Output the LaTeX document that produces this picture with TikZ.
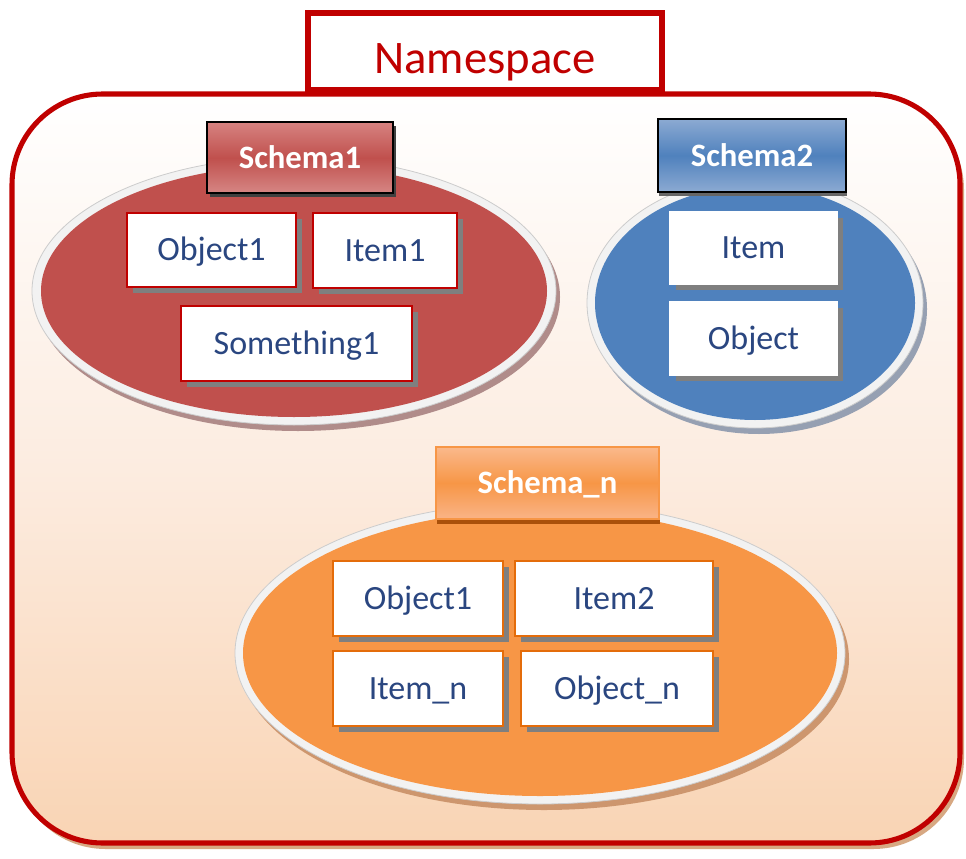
\documentclass[tikz,border=0pt]{standalone}
\usepackage{fontspec}
\setmainfont{Carlito}
\usetikzlibrary{shadows}

\definecolor{nsred}{HTML}{C00000}
\definecolor{redfill}{HTML}{C0504D}
\definecolor{bluefill}{HTML}{4F81BD}
\definecolor{orangefill}{HTML}{F79646}
\definecolor{orangeline}{HTML}{E46C0A}
\definecolor{itemtext}{HTML}{2A4680}
\definecolor{boxshadow}{HTML}{7F7F7F}
\definecolor{peach}{HTML}{F9D4B4}

\tikzset{
  itembox/.style={rectangle, fill=white, text=itemtext, line width=1.4pt,
    font=\fontsize{25.5}{28}\selectfont, inner sep=0pt,
    text height=19pt, text depth=2.6pt,
    drop shadow={shadow xshift=4.5pt, shadow yshift=-4.5pt, fill=boxshadow, opacity=1}},
  redbox/.style={itembox, draw=nsred},
  bluebox/.style={itembox, draw=white},
  orangebox/.style={itembox, draw=orangeline},
  schemalabel/.style={rectangle, text=white, inner sep=0pt,
    text height=17pt, text depth=1.2pt,
    font=\fontsize{24.5}{27}\bfseries\selectfont},
  ring/.style={fill=white!95!black, draw=white!80!black, line width=0.6pt},
}

\begin{document}
\begin{tikzpicture}[x=0.75pt, y=-0.75pt]
  \useasboundingbox (0,0) rectangle (966,859);
  \fill[white] (0,0) rectangle (966,859);

  % namespace frame: shadow, shaded body, red outline
  \fill[color={rgb,255:red,215;green,168;blue,130}, rounded corners=68pt]
    (15,99) rectangle (964,849);
  \shade[rounded corners=68pt, top color=white, bottom color=peach,
    middle color={rgb,255:red,252;green,236;blue,224}]
    (12,94) rectangle (960,843);
  \draw[nsred, line width=3.8pt, rounded corners=68pt]
    (12,94) rectangle (960,843);

  % title tab
  \node[draw=nsred, fill=white, line width=3.8pt, minimum width=265.5pt,
    minimum height=57.75pt, inner sep=0pt, text=nsred,
    text height=33pt, text depth=0pt,
    font=\fontsize{35}{40}\selectfont] (ns) at (485,51.5) {Namespace};

  % ---- Schema1 ----
  \fill[color={rgb,255:red,176;green,140;blue,138}] (298,297) ellipse [x radius=262, y radius=134];
  \path[ring] (294,291) ellipse [x radius=262, y radius=134];
  \fill[redfill] (294,291) ellipse [x radius=253, y radius=126];
  \node[schemalabel, draw=black, line width=1.5pt, minimum width=139.5pt,
    minimum height=53.25pt,
    top color={rgb,255:red,214;green,130;blue,128}, bottom color={rgb,255:red,214;green,135;blue,133},
    middle color=redfill,
    drop shadow={shadow xshift=2pt, shadow yshift=-3pt, fill=black!75, opacity=1}]
    (s1) at (300,158) {Schema1};
  \node[redbox, minimum width=126.75pt, minimum height=55.5pt] (s1a) at (211.5,250) {Object1};
  \node[redbox, minimum width=108pt, minimum height=56.25pt] (s1b) at (385,250.5) {Item1};
  \node[redbox, minimum width=173.25pt, minimum height=56.25pt] (s1c) at (296.5,343.5) {Something1};

  % ---- Schema2 ----
  \fill[color={rgb,255:red,150;green,160;blue,178}] (759,309) ellipse [x radius=168, y radius=125];
  \path[ring] (755,303) ellipse [x radius=168, y radius=125];
  \fill[bluefill] (755,303) ellipse [x radius=160, y radius=117];
  \node[schemalabel, draw=black, line width=1.5pt, minimum width=141pt,
    minimum height=54.75pt,
    top color={rgb,255:red,140;green,170;blue,210}, bottom color={rgb,255:red,140;green,170;blue,210},
    middle color=bluefill,
    drop shadow={shadow xshift=1pt, shadow yshift=-3pt, fill=black!60, opacity=1}]
    (s2) at (752,155.5) {Schema2};
  \node[bluebox, minimum width=125.25pt, minimum height=54pt] (s2a) at (753.5,248) {Item};
  \node[bluebox, minimum width=125.25pt, minimum height=54.75pt] (s2b) at (753.5,338.5) {Object};

  % ---- Schema_n ----
  \fill[color={rgb,255:red,205;green,150;blue,110}] (544,659) ellipse [x radius=305, y radius=151];
  \path[ring] (540,653) ellipse [x radius=305, y radius=151];
  \fill[orangefill] (540,653) ellipse [x radius=297, y radius=143];
  \node[schemalabel, draw=orangefill, line width=0.8pt, minimum width=167.25pt,
    minimum height=54pt,
    top color={rgb,255:red,250;green,185;blue,140}, bottom color={rgb,255:red,250;green,180;blue,135},
    middle color=orangefill,
    drop shadow={shadow xshift=0.5pt, shadow yshift=-3.5pt, fill={rgb,255:red,170;green,80;blue,10}, opacity=1}]
    (sn) at (547.5,483) {Schema\_n};
  \node[orangebox, minimum width=127.5pt, minimum height=56.25pt] (sna) at (418,598.5) {Object1};
  \node[orangebox, minimum width=148.5pt, minimum height=56.25pt] (snb) at (614,598.5) {Item2};
  \node[orangebox, minimum width=127.5pt, minimum height=56.25pt] (snc) at (418,688.5) {Item\_n};
  \node[orangebox, minimum width=144pt, minimum height=56.25pt] (snd) at (617,688.5) {Object\_n};
\end{tikzpicture}
\end{document}
